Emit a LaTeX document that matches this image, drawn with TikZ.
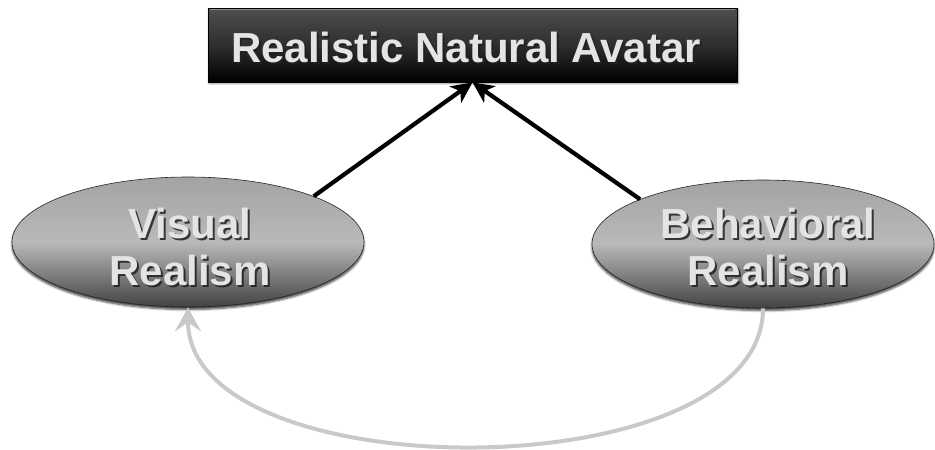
\documentclass[tikz,border=0pt]{standalone}
\usepackage{fontspec}
\setmainfont{Liberation Sans}
\usetikzlibrary{arrows.meta,shapes.geometric,shadows.blur}

\definecolor{lbl}{HTML}{E4E4E4}
\definecolor{lblshadow}{HTML}{202020}
\definecolor{loopline}{HTML}{C9C9C9}

\tikzset{
  x=1pt, y=1pt,
  titlebox/.style={rectangle, draw=black, line width=0.8pt,
    top color=gray!62!black, bottom color=black, middle color=black!82,
    minimum width=529, minimum height=74, inner sep=0,
    blur shadow={shadow xshift=1pt, shadow yshift=-1.5pt, shadow blur steps=6, shadow opacity=45}},
  realm/.style={ellipse, draw=gray!30!black, line width=0.6pt,
    top color=gray!72, bottom color=gray!52!black, middle color=gray!55,
    inner sep=0,
    blur shadow={shadow xshift=0pt, shadow yshift=-2.5pt, shadow blur steps=5, shadow opacity=75}},
  caption/.style={font=\bfseries\fontsize{42}{47}\selectfont, text=lbl,
    align=center, inner sep=0},
  capshadow/.style={caption, text=lblshadow, opacity=0.85},
  link/.style={line width=4.2pt, draw=black,
    -{Stealth[length=21pt, width=20pt, inset=6pt]}},
  backlink/.style={line width=4pt, draw=loopline,
    -{Stealth[length=24pt, width=26pt, inset=9pt]}}
}

\begin{document}
\begin{tikzpicture}
\useasboundingbox (0,0) rectangle (935,-450);

% top goal box
\node[titlebox] (avatar) at (472.5,-45) {};
\draw[white, opacity=0.35, line width=1pt]
  ([xshift=2pt,yshift=-1.5pt]avatar.north west) -- ([xshift=-2pt,yshift=-1.5pt]avatar.north east);
\node[capshadow] (avatar-s) at (468,-49) {Realistic Natural Avatar};
\node[caption]   (avatar-t) at (466,-47) {Realistic Natural Avatar};

% the two realism ellipses
\node[realm, minimum width=352, minimum height=130] (vis) at (188,-242) {};
\node[capshadow] (vis-s) at (192,-249) {Visual\\Realism};
\node[caption]   (vis-t) at (190,-247) {Visual\\Realism};

\node[realm, minimum width=342, minimum height=128] (beh) at (763,-244) {};
\node[capshadow] (beh-s) at (770,-249) {Behavioral\\Realism};
\node[caption]   (beh-t) at (768,-247) {Behavioral\\Realism};

% contributions to the avatar
\draw[link] (vis.20) -- (avatar.south);
\draw[link] (beh.160) -- (avatar.south);

% feedback from behaviour to appearance
\draw[backlink] (beh.south) .. controls +(0,-184) and +(0,-184) .. (vis.south);
\end{tikzpicture}
\end{document}
